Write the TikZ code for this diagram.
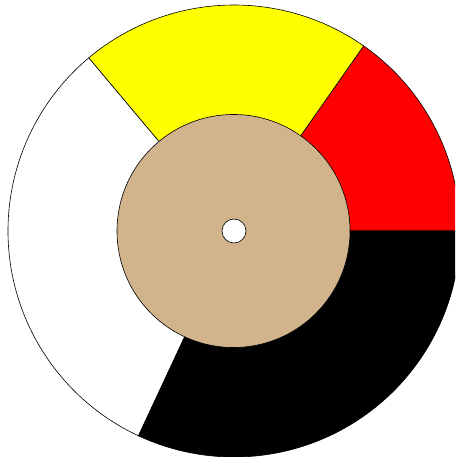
\documentclass[tikz,border=0pt]{standalone}
\usepackage{tikz}
\usetikzlibrary{calc}
\usepackage{xcolor}
\definecolor{wheeltan}{RGB}{210,180,140}
\definecolor{wheelyellow}{RGB}{255,255,0}
\definecolor{wheelred}{RGB}{255,0,0}
\newcommand{\Rout}{226}
\newcommand{\Rin}{116.5}

\begin{document}
\begin{tikzpicture}[x=1pt, y=1pt,
  sector/.style={draw=black, line width=0.6pt}]
  \useasboundingbox (-234,-226) rectangle (221,231);
  \begin{scope}
    \clip (-234,-226) rectangle (221,231);
    \filldraw[sector, fill=wheelred]    (0,0) -- (0:\Rout)   arc (0:55:\Rout)    -- cycle;
    \filldraw[sector, fill=wheelyellow] (0,0) -- (55:\Rout)  arc (55:130:\Rout)  -- cycle;
    \filldraw[sector, fill=white]       (0,0) -- (130:\Rout) arc (130:245:\Rout) -- cycle;
    \filldraw[sector, fill=black]       (0,0) -- (245:\Rout) arc (245:360:\Rout) -- cycle;
  \end{scope}
  \coordinate (hub) at (-0.5,0);
  \filldraw[sector, fill=wheeltan] (hub) circle (\Rin);
  \filldraw[sector, fill=white] (0,0) circle (12);
\end{tikzpicture}
\end{document}
